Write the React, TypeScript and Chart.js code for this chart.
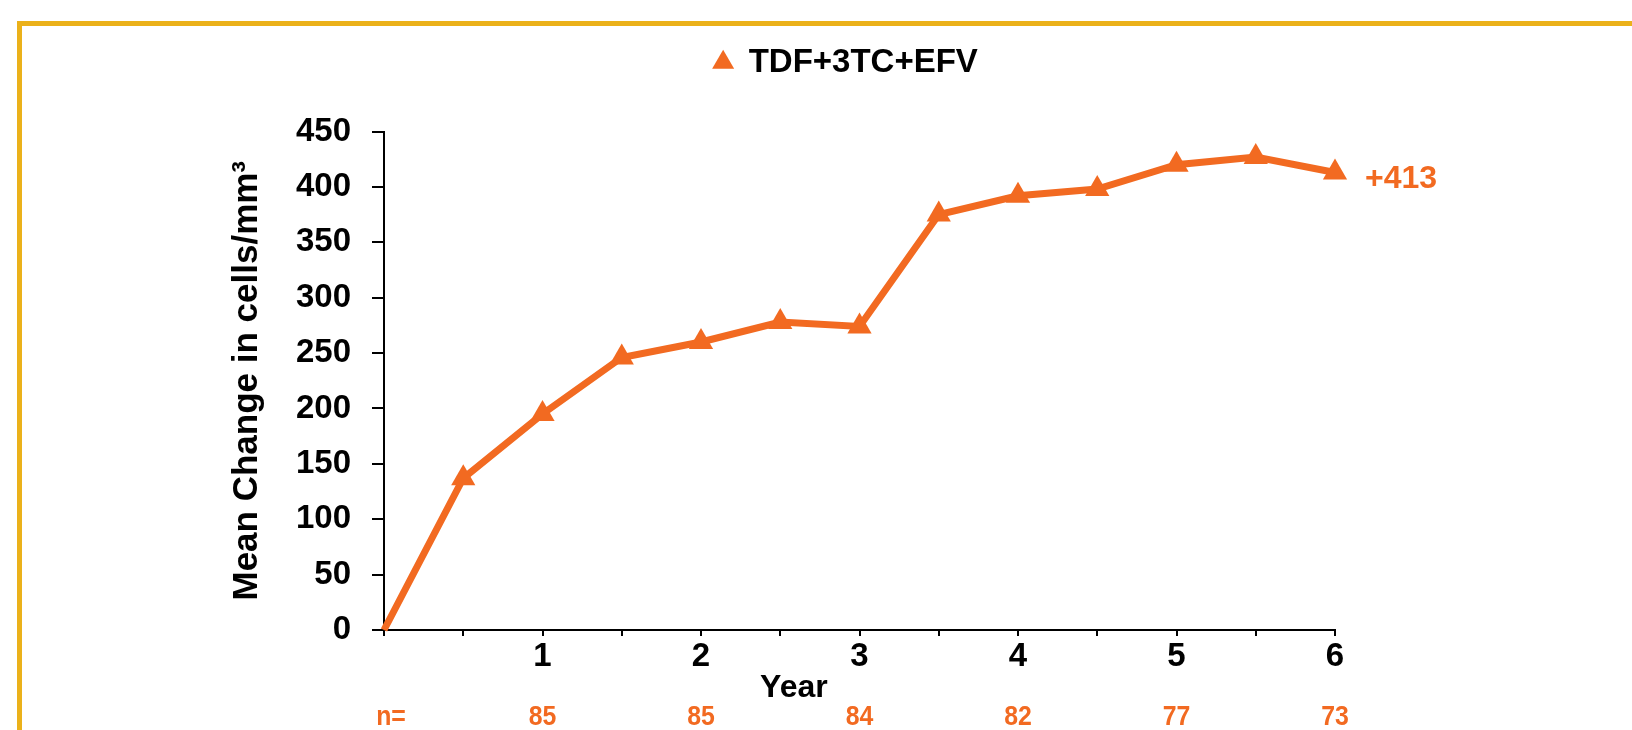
import React, { useEffect, useRef } from "react";
import { Chart, registerables } from "chart.js";

Chart.register(...registerables);

// ---- data ----
const seriesLabel = "TDF+3TC+EFV";
const years = [0, 0.5, 1, 1.5, 2, 2.5, 3, 3.5, 4, 4.5, 5, 5.5, 6];
const meanChange = [0, 137, 195, 246, 260, 278, 274, 375, 392, 398, 420, 427, 413];
const nYears = [1, 2, 3, 4, 5, 6];
const nValues = [85, 85, 84, 82, 77, 73];
const nPrefix = "n=";
const endLabel = "+413";
const xTitle = "Year";
const yTitle = "Mean Change in cells/mm³";
const yMin = 0;
const yMax = 450;
const yStep = 50;
const xMin = 0;
const xMax = 6;
const xStep = 0.5;

const ORANGE = "#F26A21";
const GOLD = "#EBB11A";
const FONT = "'Liberation Sans', Arial, Helvetica, sans-serif";

const annotations = {
  id: "annotations",
  afterDraw(chart: any) {
    const { ctx, chartArea, scales } = chart;
    const xs = scales.x;
    const ys = scales.y;
    ctx.save();
    // x title
    ctx.fillStyle = "#000";
    ctx.font = `bold 32px ${FONT}`;
    ctx.textAlign = "center";
    ctx.textBaseline = "middle";
    ctx.fillText(xTitle, chartArea.left + (chartArea.right - chartArea.left) * 0.431, 688);

    // n row
    ctx.fillStyle = ORANGE;
    ctx.font = `bold 27px ${FONT}`;
    const rowY = 718;
    const drawNarrow = (t: string, x: number) => {
      ctx.save();
      ctx.translate(x, rowY);
      ctx.scale(0.92, 1);
      ctx.fillText(t, 0, 0);
      ctx.restore();
    };
    drawNarrow(nPrefix, 391);
    nYears.forEach((yr, i) => drawNarrow(String(nValues[i]), xs.getPixelForValue(yr)));

    // end label
    const last = meanChange.length - 1;
    ctx.font = `bold 32px ${FONT}`;
    ctx.textAlign = "left";
    ctx.fillText(endLabel, xs.getPixelForValue(years[last]) + 30, ys.getPixelForValue(meanChange[last]) + 7);
    ctx.restore();
  },
};

export default function App() {
  const ref = useRef<HTMLCanvasElement | null>(null);
  useEffect(() => {
    if (!ref.current) return;
    const font = { family: FONT, size: 33, weight: "bold" as const };
    const chart = new Chart(ref.current, {
      type: "line",
      data: {
        datasets: [
          {
            label: seriesLabel,
            data: years.map((x, i) => ({ x, y: meanChange[i] })),
            borderColor: ORANGE,
            backgroundColor: ORANGE,
            borderWidth: 7,
            pointStyle: "triangle",
            pointRadius: (c: any) => (c.dataIndex === 0 ? 0 : 14),
            pointBackgroundColor: ORANGE,
            pointBorderColor: ORANGE,
            pointBorderWidth: 0,
            tension: 0,
            fill: false,
            clip: false,
          },
        ],
      },
      options: {
        responsive: false,
        animation: false,
        devicePixelRatio: 1,
        layout: { padding: { left: 60, right: 0, top: 3, bottom: 0 } },
        plugins: {
          legend: {
            display: true,
            position: "top",
            labels: {
              usePointStyle: true,
              boxWidth: 18,
              boxHeight: 18,
              padding: 43,
              color: "#000",
              font,
            },
          },
          tooltip: { enabled: false },
        },
        scales: {
          x: {
            type: "linear",
            min: xMin,
            max: xMax,
            grid: { display: true, drawOnChartArea: false, drawTicks: true, tickLength: 6, color: "#000", lineWidth: 2 },
            border: { display: true, color: "#000", width: 2 },
            ticks: {
              stepSize: xStep,
              autoSkip: false,
              maxRotation: 0,
              padding: 1,
              color: "#000",
              font,
              callback: (v: any) => (Number.isInteger(v) && v > 0 ? String(v) : ""),
            },
            afterFit: (s: any) => {
              s.height = 100;
            },
          },
          xTop: {
            type: "linear",
            position: "top",
            display: true,
            grid: { display: false },
            border: { display: false },
            ticks: { display: false },
            afterFit: (s: any) => {
              s.height = 42.5;
            },
          },
          y: {
            type: "linear",
            min: yMin,
            max: yMax,
            grid: { display: true, drawOnChartArea: false, drawTicks: true, tickLength: 12, color: "#000", lineWidth: 2 },
            border: { display: true, color: "#000", width: 2 },
            ticks: { stepSize: yStep, padding: 21, color: "#000", font },
            title: {
              display: true,
              text: yTitle,
              color: "#000",
              font: { family: FONT, size: 35, weight: "bold" },
              padding: { top: 166, bottom: 0 },
            },
            afterFit: (s: any) => {
              s.width = 324;
            },
          },
          yRight: {
            type: "linear",
            position: "right",
            display: true,
            grid: { display: false },
            border: { display: false },
            ticks: { display: false },
            afterFit: (s: any) => {
              s.width = 297;
            },
          },
        },
      },
      plugins: [annotations],
    } as any);
    return () => chart.destroy();
  }, []);

  return (
    <div style={{ position: "absolute", left: 0, top: 0, width: 1632, height: 730, background: "#fff", overflow: "hidden" }}>
      <div
        style={{
          position: "absolute",
          left: 17,
          top: 21,
          right: -10,
          bottom: -10,
          borderTop: `5px solid ${GOLD}`,
          borderLeft: `5px solid ${GOLD}`,
        }}
      />
      <canvas ref={ref} width={1632} height={730} style={{ position: "absolute", left: 0, top: 0, width: 1632, height: 730 }} />
    </div>
  );
}
